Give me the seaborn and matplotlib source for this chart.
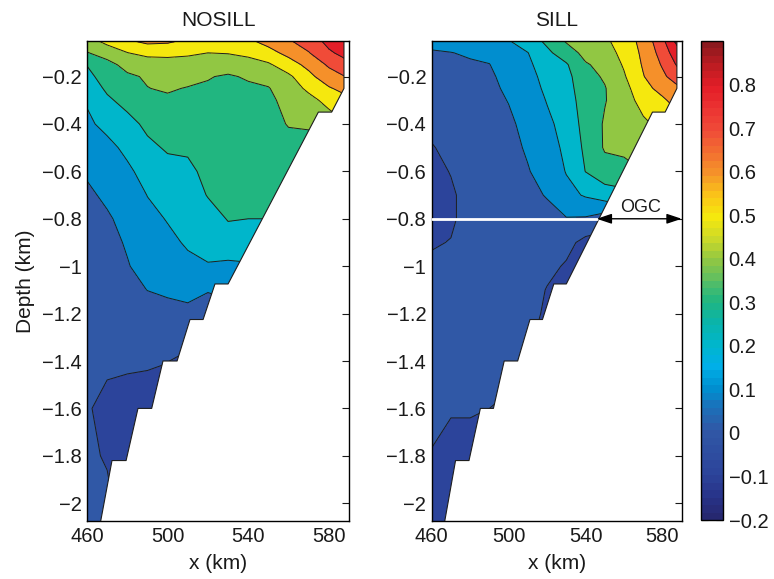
import numpy as np
import matplotlib
matplotlib.use("Agg")
import matplotlib.pyplot as plt
import seaborn as sns
from matplotlib.patches import Polygon
from matplotlib.colors import ListedColormap, Normalize
from matplotlib.cm import ScalarMappable
from matplotlib.ticker import FuncFormatter

# Grid of the section (x along the channel, depth)
x_km = [460, 470, 480, 490, 500, 510, 520, 530, 540, 550, 560, 570, 580, 590]
depth_km = [-0.05, -0.1, -0.15, -0.2, -0.25, -0.3, -0.4, -0.5, -0.6, -0.7,
            -0.8, -0.9, -1.0, -1.1, -1.2, -1.4, -1.6, -1.8, -2.1]

# Field values, one list per x column (top to bottom)
nosill = [
    [0.46, 0.395, 0.303, 0.275, 0.245, 0.21, 0.18, 0.145, 0.11, 0.085, 0.075, 0.07, 0.065, 0.06, 0.055, 0.04, 0.01, 0.02, 0.05],
    [0.53, 0.44, 0.37, 0.34, 0.315, 0.285, 0.23, 0.17, 0.14, 0.115, 0.09, 0.075, 0.07, 0.06, 0.05, 0.02, -0.03, -0.01, 0.04],
    [0.59, 0.497, 0.43, 0.385, 0.36, 0.33, 0.27, 0.225, 0.18, 0.15, 0.125, 0.108, 0.095, 0.08, 0.06, 0.015, -0.04, -0.04, -0.04],
    [0.62, 0.54, 0.422, 0.41, 0.398, 0.37, 0.32, 0.28, 0.24, 0.202, 0.175, 0.155, 0.13, 0.101, 0.07, 0.01, -0.04, -0.04, -0.04],
    [0.615, 0.535, 0.445, 0.425, 0.41, 0.385, 0.35, 0.31, 0.27, 0.24, 0.205, 0.18, 0.155, 0.12, 0.06, 0.002, -0.04, -0.04, -0.04],
    [0.585, 0.515, 0.46, 0.43, 0.395, 0.38, 0.355, 0.32, 0.27, 0.25, 0.23, 0.21, 0.18, 0.13, 0.075, -0.02, -0.04, -0.04, -0.04],
    [0.57, 0.50, 0.45, 0.405, 0.39, 0.38, 0.37, 0.355, 0.335, 0.305, 0.26, 0.225, 0.195, 0.105, 0.06, -0.02, -0.04, -0.04, -0.04],
    [0.565, 0.505, 0.44, 0.39, 0.38, 0.375, 0.37, 0.365, 0.355, 0.34, 0.305, 0.26, 0.18, 0.12, 0.07, 0.0, -0.04, -0.04, -0.04],
    [0.585, 0.52, 0.465, 0.41, 0.385, 0.375, 0.37, 0.365, 0.355, 0.34, 0.30, 0.25, 0.19, 0.12, 0.07, 0.0, -0.04, -0.04, -0.04],
    [0.63, 0.57, 0.485, 0.43, 0.395, 0.38, 0.37, 0.36, 0.35, 0.335, 0.30, 0.25, 0.19, 0.12, 0.07, 0.0, -0.04, -0.04, -0.04],
    [0.69, 0.625, 0.56, 0.48, 0.45, 0.43, 0.405, 0.37, 0.35, 0.33, 0.30, 0.25, 0.19, 0.12, 0.07, 0.0, -0.04, -0.04, -0.04],
    [0.745, 0.695, 0.625, 0.575, 0.52, 0.47, 0.41, 0.37, 0.35, 0.33, 0.30, 0.25, 0.19, 0.12, 0.07, 0.0, -0.04, -0.04, -0.04],
    [0.83, 0.785, 0.715, 0.655, 0.59, 0.53, 0.45, 0.40, 0.37, 0.34, 0.30, 0.25, 0.19, 0.12, 0.07, 0.0, -0.04, -0.04, -0.04],
    [0.88, 0.84, 0.78, 0.71, 0.64, 0.58, 0.50, 0.45, 0.40, 0.36, 0.32, 0.26, 0.19, 0.12, 0.07, 0.0, -0.04, -0.04, -0.04],
]

sill = [
    [0.13, 0.09, 0.075, 0.06, 0.05, 0.04, 0.02, -0.005, -0.02, -0.025, -0.02, -0.005, 0.01, 0.02, 0.025, 0.02, 0.01, -0.002, -0.02],
    [0.135, 0.098, 0.085, 0.075, 0.065, 0.055, 0.035, 0.02, 0.003, -0.01, -0.008, 0.002, 0.015, 0.025, 0.03, 0.025, 0.005, -0.02, -0.03],
    [0.14, 0.11, 0.09, 0.08, 0.075, 0.07, 0.06, 0.05, 0.04, 0.025, 0.02, 0.02, 0.025, 0.03, 0.035, 0.03, 0.005, -0.02, -0.03],
    [0.15, 0.12, 0.098, 0.085, 0.08, 0.075, 0.07, 0.065, 0.06, 0.05, 0.04, 0.035, 0.035, 0.035, 0.035, 0.025, 0.0, -0.02, -0.03],
    [0.195, 0.165, 0.145, 0.13, 0.115, 0.103, 0.085, 0.075, 0.07, 0.06, 0.05, 0.04, 0.04, 0.04, 0.04, 0.02, -0.01, -0.02, -0.03],
    [0.25, 0.198, 0.18, 0.165, 0.155, 0.145, 0.125, 0.11, 0.095, 0.08, 0.065, 0.055, 0.05, 0.045, 0.04, 0.0, -0.02, -0.03, -0.03],
    [0.32, 0.28, 0.255, 0.235, 0.22, 0.205, 0.18, 0.16, 0.135, 0.105, 0.075, 0.05, 0.025, -0.005, -0.02, -0.03, -0.03, -0.03, -0.03],
    [0.41, 0.35, 0.29, 0.27, 0.26, 0.25, 0.235, 0.22, 0.205, 0.17, 0.095, 0.03, -0.01, -0.03, -0.03, -0.03, -0.03, -0.03, -0.03],
    [0.47, 0.43, 0.39, 0.37, 0.36, 0.35, 0.335, 0.32, 0.302, 0.21, 0.09, -0.03, -0.04, -0.04, -0.04, -0.04, -0.04, -0.04, -0.04],
    [0.48, 0.455, 0.43, 0.41, 0.395, 0.395, 0.41, 0.41, 0.36, 0.25, 0.05, -0.04, -0.04, -0.04, -0.04, -0.04, -0.04, -0.04, -0.04],
    [0.55, 0.53, 0.51, 0.49, 0.465, 0.45, 0.43, 0.42, 0.37, 0.27, 0.10, -0.04, -0.04, -0.04, -0.04, -0.04, -0.04, -0.04, -0.04],
    [0.63, 0.62, 0.61, 0.595, 0.57, 0.54, 0.48, 0.45, 0.40, 0.30, 0.15, -0.04, -0.04, -0.04, -0.04, -0.04, -0.04, -0.04, -0.04],
    [0.775, 0.74, 0.71, 0.68, 0.63, 0.585, 0.53, 0.49, 0.44, 0.35, 0.20, -0.04, -0.04, -0.04, -0.04, -0.04, -0.04, -0.04, -0.04],
    [0.98, 0.90, 0.84, 0.77, 0.70, 0.65, 0.57, 0.52, 0.47, 0.38, 0.22, -0.04, -0.04, -0.04, -0.04, -0.04, -0.04, -0.04, -0.04],
]

# Stepped bottom / end of the model domain
bathy_x = [587.5, 587.5, 581.4, 574.8, 530.0, 523.5, 517.6, 511.1, 504.7, 497.7, 492.1, 485.3, 479.4, 472.4, 466.8]
bathy_z = [-0.05, -0.25, -0.35, -0.35, -1.075, -1.075, -1.225, -1.225, -1.40, -1.40, -1.60, -1.60, -1.82, -1.82, -2.075]

levels = [-0.2, -0.1, 0.0, 0.1, 0.2, 0.3, 0.4, 0.5, 0.6, 0.7, 0.8, 0.9, 1.0]
cbar_ticks = [-0.2, -0.1, 0.0, 0.1, 0.2, 0.3, 0.4, 0.5, 0.6, 0.7, 0.8]
depth_ticks = [-2.0, -1.8, -1.6, -1.4, -1.2, -1.0, -0.8, -0.6, -0.4, -0.2]
x_ticks = [460, 500, 540, 580]

# printed "jet" colours, one every 0.05 from -0.2 to 0.9
jet_print = ['#262870', '#28348a', '#2c449b', '#2e4ea0', '#3058a6', '#1c70b9',
             '#008fd0', '#00afe8', '#00b6cc', '#0ab4aa', '#21b680', '#5abe64',
             '#91c743', '#cdda28', '#f6e80d', '#fac319', '#f5922a', '#f27030',
             '#f04c38', '#ec3432', '#e41e28', '#be1c22', '#8c191e']

sns.set_style("white")
plt.rcParams['font.family'] = ['Liberation Sans', 'DejaVu Sans']
plt.rcParams['text.color'] = '#1a1a1a'
plt.rcParams['axes.labelcolor'] = '#1a1a1a'

cmap_smooth = sns.blend_palette(jet_print, as_cmap=True)
cmap_steps = ListedColormap(sns.blend_palette(jet_print, n_colors=64))
norm = Normalize(-0.2, 0.9)
# MATLAB style: each band takes the colour of its lower level
band_colors = [cmap_smooth(min(norm(v), 1.0)) for v in levels[:-1]]


def minus_fmt(v, pos):
    v = round(v, 6)
    if abs(v) < 1e-9:
        return '0'
    return f'{v:g}'.replace('-', '\u2212')


def draw_panel(ax, values, title):
    V = np.array(values).T
    X, Z = np.meshgrid(x_km, depth_km)
    outline = [(455, 0.0), (587.5, 0.0)] + list(zip(bathy_x, bathy_z)) + [(466.8, -2.3), (455, -2.3)]
    water = Polygon(outline, closed=True, transform=ax.transData)

    cf = ax.contourf(X, Z, V, levels=levels, colors=band_colors)
    cf.set_clip_path(water)
    cl = ax.contour(X, Z, V, levels=levels[1:-1], colors='#1e1e1e', linewidths=0.7)
    cl.set_clip_path(water)
    ax.plot(bathy_x, bathy_z, color='#1e1e1e', lw=0.8)

    ax.set_xlim(460, 590)
    ax.set_ylim(-2.075, -0.05)
    ax.set_xticks(x_ticks)
    ax.set_yticks(depth_ticks)
    ax.yaxis.set_major_formatter(FuncFormatter(minus_fmt))
    ax.set_axisbelow(True)
    ax.tick_params(direction='in', length=5, width=0.8, top=True, right=True,
                   labelsize=14.5, pad=4, colors='#1a1a1a')
    for s in ax.spines.values():
        s.set_color('black')
        s.set_linewidth(1.0)
    ax.set_title(title, fontsize=15, pad=11)
    ax.set_xlabel('x (km)', fontsize=15, labelpad=6)


fig = plt.figure(figsize=(7.74, 5.79), dpi=100)
ax1 = fig.add_axes([87 / 774, 58 / 579, 262 / 774, 480 / 579])
ax2 = fig.add_axes([431.7 / 774, 58 / 579, 250 / 774, 480 / 579])

draw_panel(ax1, nosill, 'NOSILL')
draw_panel(ax2, sill, 'SILL')
ax1.set_ylabel('Depth (km)', fontsize=15, labelpad=5)

# OGC marker on the SILL panel
ax2.plot([460, 545.8], [-0.8, -0.8], color='white', lw=2, zorder=3)
ax2.annotate('', xy=(545.8, -0.8), xytext=(590, -0.8),
             arrowprops=dict(arrowstyle='<|-|>,head_length=0.9,head_width=0.3',
                             color='black', lw=1, shrinkA=0, shrinkB=0),
             annotation_clip=False, zorder=4)
ax2.text(568.7, -0.751, 'OGC', ha='center', va='center', fontsize=13)

# colour bar
cax = fig.add_axes([701 / 774, 59 / 579, 22 / 774, 479 / 579])
cb = fig.colorbar(ScalarMappable(norm=norm, cmap=cmap_steps), cax=cax, ticks=cbar_ticks)
cb.outline.set_linewidth(1.0)
cb.outline.set_edgecolor('black')
cax.yaxis.set_major_formatter(FuncFormatter(minus_fmt))
cax.tick_params(direction='in', length=5, width=0.8, left=True, right=True,
                labelsize=14.5, pad=4, colors='#1a1a1a')

fig.savefig('out.png', dpi=100)
